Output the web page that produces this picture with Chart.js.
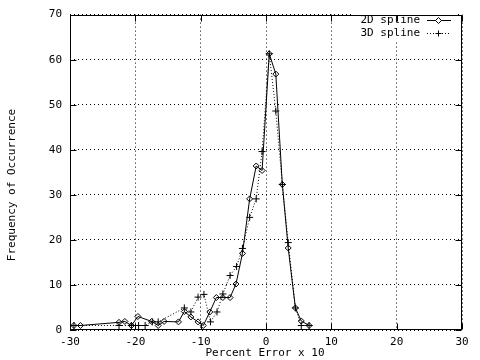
<!DOCTYPE html>
<html>
<head>
<meta charset="utf-8">
<script src="https://cdn.jsdelivr.net/npm/chart.js@4"></script>
<style>
html,body{margin:0;padding:0;background:#fff;}
#wrap{width:480px;height:360px;position:relative;}
</style>
</head>
<body>
<div id="wrap"><canvas id="c" width="480" height="360"></canvas></div>
<script>
// ---- data ----
const xs2D = [-29.4,-28.4,-22.5,-21.6,-20.6,-19.6,-17.5,-16.5,-15.6,-13.4,-12.5,-11.5,-10.4,-9.6,-8.6,-7.6,-6.6,-5.5,-4.6,-3.6,-2.5,-1.5,-0.6,0.5,1.5,2.5,3.4,4.5,5.4,6.6];
const ys2D = [1,1,1.7,1.9,1,3,1.9,1,1.9,1.8,4.1,2.9,1.8,1,4,7.2,7.2,7.2,10.2,17,29.1,36.4,35.4,61.3,56.8,32.3,18.2,4.9,2,1];
const xs3D = [-29.4,-22.5,-20.6,-19.5,-18.5,-17.4,-16.5,-12.5,-11.5,-10.4,-9.5,-8.5,-7.5,-6.6,-5.5,-4.5,-3.6,-2.5,-1.5,-0.6,0.5,1.5,2.5,3.4,4.5,5.4,6.6];
const ys3D = [1,1,1,1,1,1.8,1.8,4.9,4,7.3,7.9,1.8,4,8,12.1,14.1,18.1,25,29.1,39.6,61.3,48.6,32.3,19.4,4.9,1,1];
const seriesNames = ["2D spline","3D spline"];
const xTicks = [-30,-20,-10,0,10,20,30];
const yTicks = [0,10,20,30,40,50,60,70];
const xTitle = "Percent Error x 10";
const yTitle = "Frequency of Occurrence";

const FONT = "'DejaVu Sans Mono', 'Liberation Mono', monospace";
const toPts = (xs, ys) => xs.map((x, i) => ({x: x, y: ys[i]}));

const framePlugin = {
  id: 'frame',
  afterDraw(chart) {
    const ctx = chart.ctx, a = chart.chartArea;
    const xs = chart.scales.x, ys = chart.scales.y;
    const L = Math.round(a.left) + 0.5, R = Math.round(a.right) - 0.5;
    const T = Math.round(a.top) + 0.5, B = Math.round(a.bottom) - 0.5;
    ctx.save();
    // key background (gnuplot clears the key area)
    ctx.fillStyle = '#fff';
    ctx.fillRect(352, 14, 104, 26);
    ctx.strokeStyle = '#000';
    ctx.lineWidth = 1;
    ctx.setLineDash([]);
    ctx.strokeRect(L, T, R - L, B - T);
    // inward tick marks (mirrored)
    const tl = 6;
    ctx.beginPath();
    xTicks.forEach(v => {
      const p = Math.round(xs.getPixelForValue(v)) + 0.5;
      ctx.moveTo(p, B); ctx.lineTo(p, B - tl);
      ctx.moveTo(p, T); ctx.lineTo(p, T + tl);
    });
    yTicks.forEach(v => {
      const p = Math.round(ys.getPixelForValue(v)) + 0.5;
      ctx.moveTo(L, p); ctx.lineTo(L + tl, p);
      ctx.moveTo(R, p); ctx.lineTo(R - tl, p);
    });
    ctx.stroke();
    // axis titles
    ctx.fillStyle = '#000';
    ctx.font = '11px ' + FONT;
    ctx.textAlign = 'center';
    ctx.textBaseline = 'middle';
    ctx.fillText(xTitle, 265, 353);
    ctx.save();
    ctx.translate(12, 185);
    ctx.rotate(-Math.PI / 2);
    ctx.fillText(yTitle, 0, 0);
    ctx.restore();
    // key (gnuplot style: text then sample)
    const rows = [
      {name: seriesNames[0], y: 20, dash: [], style: 'diamond'},
      {name: seriesNames[1], y: 33, dash: [1, 2], style: 'cross'}
    ];
    rows.forEach(r => {
      ctx.textAlign = 'right';
      ctx.fillText(r.name, 420, r.y);
      ctx.beginPath();
      ctx.setLineDash(r.dash);
      ctx.moveTo(427, Math.round(r.y) + 0.5);
      ctx.lineTo(451, Math.round(r.y) + 0.5);
      ctx.stroke();
      ctx.setLineDash([]);
      const cx = 438.5, cy = Math.round(r.y) + 0.5;
      ctx.beginPath();
      if (r.style === 'diamond') {
        ctx.moveTo(cx, cy - 3); ctx.lineTo(cx + 3, cy); ctx.lineTo(cx, cy + 3); ctx.lineTo(cx - 3, cy); ctx.closePath();
        ctx.fillStyle = '#fff'; ctx.fill(); ctx.fillStyle = '#000';
      } else {
        ctx.moveTo(cx - 3, cy); ctx.lineTo(cx + 3, cy);
        ctx.moveTo(cx, cy - 3); ctx.lineTo(cx, cy + 3);
      }
      ctx.stroke();
    });
    ctx.restore();
  }
};

new Chart(document.getElementById('c'), {
  type: 'scatter',
  data: {
    datasets: [
      {
        label: seriesNames[0],
        data: toPts(xs2D, ys2D),
        showLine: true,
        borderColor: '#000',
        borderWidth: 1,
        pointStyle: 'rectRot',
        pointRadius: 3,
        pointBorderColor: '#000',
        pointBackgroundColor: 'rgba(255,255,255,0)',
        pointBorderWidth: 1,
        tension: 0
      },
      {
        label: seriesNames[1],
        data: toPts(xs3D, ys3D),
        showLine: true,
        borderColor: '#000',
        borderWidth: 1,
        borderDash: [1, 2],
        pointStyle: 'cross',
        pointRadius: 3.5,
        pointBorderColor: '#000',
        pointBorderWidth: 1,
        tension: 0
      }
    ]
  },
  options: {
    responsive: false,
    animation: false,
    devicePixelRatio: 1,
    layout: {padding: {left: 0, right: 18, top: 8, bottom: 0}},
    plugins: {legend: {display: false}, tooltip: {enabled: false}},
    scales: {
      x: {
        type: 'linear',
        min: -30, max: 30,
        afterFit: s => { s.height = 30; },
        afterBuildTicks: s => { s.ticks = xTicks.map(v => ({value: v})); },
        ticks: {color: '#000', font: {family: FONT, size: 11}, padding: 6, maxRotation: 0},
        grid: {color: '#000', lineWidth: 1, drawTicks: false},
        border: {display: false, dash: [1, 3]}
      },
      y: {
        type: 'linear',
        min: 0, max: 70,
        afterFit: s => { s.width = 70; },
        afterBuildTicks: s => { s.ticks = yTicks.map(v => ({value: v})); },
        ticks: {color: '#000', font: {family: FONT, size: 11}, padding: 8},
        grid: {color: '#000', lineWidth: 1, drawTicks: false},
        border: {display: false, dash: [1, 3]}
      }
    }
  },
  plugins: [framePlugin]
});
</script>
</body>
</html>
